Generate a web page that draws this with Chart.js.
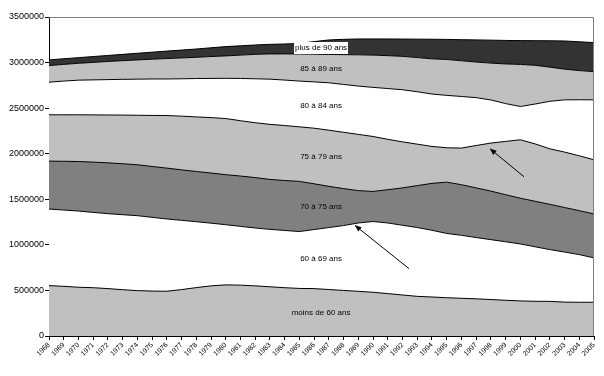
<!DOCTYPE html>
<html>
<head>
<meta charset="utf-8">
<script src="https://cdn.jsdelivr.net/npm/chart.js@4.4.1/dist/chart.umd.min.js"></script>
<style>
  html, body { margin: 0; padding: 0; background: #fff; }
  #wrap { width: 604px; height: 376px; }
</style>
</head>
<body>
<div id="wrap"><canvas id="ageChart" width="604" height="376"></canvas></div>
<script>
// Population âgée par tranche d'âge, en milliers
const years = ['1968', '1969', '1970', '1971', '1972', '1973', '1974', '1975', '1976', '1977',
  '1978', '1979', '1980', '1981', '1982', '1983', '1984', '1985', '1986', '1987',
  '1988', '1989', '1990', '1991', '1992', '1993', '1994', '1995', '1996', '1997',
  '1998', '1999', '2000', '2001', '2002', '2003', '2004', '2005'];

const groupNames = ['moins de 60 ans', '60 à 69 ans', '70 à 75 ans', '75 à 79 ans',
  '80 à 84 ans', '85 à 89 ans', 'plus de 90 ans'];

const moins60 = [553, 545, 535, 530, 520, 508, 498, 493, 491, 509, 531, 550, 561, 558, 550, 540, 530, 522, 520, 510,
  500, 490, 480, 465, 450, 435, 428, 420, 414, 408, 400, 392, 385, 381, 380, 372, 370, 370];
const age60a69 = [840, 837, 836, 826, 822, 823, 822, 809, 793, 760, 723, 688, 660, 645, 635, 630, 628, 624, 648, 680,
  712, 750, 776, 775, 765, 755, 732, 705, 691, 672, 657, 642, 625, 598, 568, 549, 523, 487];
const age70a74 = [526, 535, 543, 552, 558, 559, 559, 558, 558, 554, 551, 550, 549, 552, 553, 548, 548, 550, 502, 452,
  405, 355, 330, 365, 410, 460, 515, 563, 555, 545, 533, 516, 502, 499, 497, 489, 482, 482];
const age75a79 = [508, 510, 513, 518, 525, 534, 543, 560, 577, 589, 599, 608, 616, 607, 602, 604, 603, 599, 610, 616,
  618, 617, 603, 553, 505, 455, 405, 377, 402, 465, 527, 585, 641, 630, 609, 608, 602, 594];
const age80a84 = [358, 370, 380, 384, 388, 392, 396, 400, 401, 410, 421, 430, 441, 464, 482, 496, 499, 502, 508, 520,
  525, 530, 539, 557, 572, 575, 575, 575, 566, 525, 473, 415, 365, 437, 521, 573, 615, 658];
const age85a89 = [182, 183, 185, 192, 199, 205, 211, 217, 224, 229, 233, 240, 246, 256, 268, 277, 287, 297, 304, 311,
  327, 343, 354, 361, 366, 375, 386, 394, 392, 391, 404, 435, 462, 425, 375, 337, 320, 310];
const plus90 = [62, 62, 62, 64, 66, 69, 73, 77, 82, 86, 91, 96, 102, 102, 103, 105, 109, 116, 138, 159,
  168, 174, 177, 183, 190, 202, 215, 220, 231, 243, 252, 258, 261, 270, 289, 309, 316, 318];

const yTicks = [0, 500000, 1000000, 1500000, 2000000, 2500000, 3000000, 3500000];

// flèches du graphique : [index année, valeur] de la queue vers la pointe
const arrows = [
  { from: [24.44, 739000], to: [20.77, 1214000] },
  { from: [32.25, 1747000], to: [29.94, 2054000] }
];
const labelIndex = 18.47;

const series = [moins60, age60a69, age70a74, age75a79, age80a84, age85a89, plus90];
const fills = ['#c0c0c0', '#ffffff', '#808080', '#c0c0c0', '#ffffff', '#c0c0c0', '#333333'];
const FONT = '"Liberation Sans", Arial, sans-serif';

const whiteBg = {
  id: 'whiteBg',
  beforeDraw(chart) {
    const ctx = chart.ctx;
    ctx.save();
    ctx.fillStyle = '#fff';
    ctx.fillRect(0, 0, chart.width, chart.height);
    ctx.restore();
  }
};

const decorations = {
  id: 'decorations',
  afterDatasetsDraw(chart) {
    const { ctx, chartArea: a, scales: { x, y } } = chart;
    ctx.save();

    // bord haut et droit gris
    ctx.strokeStyle = '#808080';
    ctx.lineWidth = 1;
    ctx.beginPath();
    ctx.moveTo(a.left, a.top + 0.5);
    ctx.lineTo(a.right - 0.5, a.top + 0.5);
    ctx.lineTo(a.right - 0.5, a.bottom);
    ctx.stroke();

    // étiquettes des tranches
    ctx.font = '8px ' + FONT;
    ctx.textAlign = 'center';
    ctx.textBaseline = 'middle';
    const i0 = Math.floor(labelIndex), t = labelIndex - i0;
    const px = x.getPixelForValue(labelIndex);
    let base = 0;
    chart.data.datasets.forEach((ds, k) => {
      const v = ds.data[i0] * (1 - t) + ds.data[i0 + 1] * t;
      const py = y.getPixelForValue(base + v / 2);
      base += v;
      if (k === chart.data.datasets.length - 1) {
        const w = ctx.measureText(ds.label).width + 2;
        ctx.fillStyle = '#fff';
        ctx.fillRect(Math.round(px - w / 2), Math.round(py - 6), Math.round(w), 12);
      }
      ctx.fillStyle = '#000';
      ctx.fillText(ds.label, px, py);
    });

    // flèches
    ctx.strokeStyle = '#000';
    ctx.fillStyle = '#000';
    arrows.forEach(ar => {
      const x1 = x.getPixelForValue(ar.from[0]), y1 = y.getPixelForValue(ar.from[1]);
      const x2 = x.getPixelForValue(ar.to[0]), y2 = y.getPixelForValue(ar.to[1]);
      const ang = Math.atan2(y2 - y1, x2 - x1);
      ctx.beginPath();
      ctx.moveTo(x1, y1);
      ctx.lineTo(x2, y2);
      ctx.stroke();
      ctx.beginPath();
      ctx.moveTo(x2, y2);
      ctx.lineTo(x2 - 7 * Math.cos(ang - 0.4), y2 - 7 * Math.sin(ang - 0.4));
      ctx.lineTo(x2 - 7 * Math.cos(ang + 0.4), y2 - 7 * Math.sin(ang + 0.4));
      ctx.closePath();
      ctx.fill();
    });
    ctx.restore();
  }
};

const ctx = document.getElementById('ageChart').getContext('2d');
const ageChart = new Chart(ctx, {
  type: 'line',
  data: {
    labels: years,
    datasets: series.map((vals, k) => ({
      label: groupNames[k],
      data: vals.map(v => v * 1000),
      backgroundColor: fills[k],
      borderColor: '#000',
      borderWidth: 1,
      pointRadius: 0,
      tension: 0,
      fill: k === 0 ? 'origin' : '-1'
    }))
  },
  options: {
    responsive: false,
    animation: false,
    devicePixelRatio: 1,
    layout: { padding: { top: 17, right: 10, left: 0, bottom: 0 } },
    plugins: {
      legend: { display: false },
      tooltip: { enabled: false }
    },
    scales: {
      x: {
        offset: false,
        grid: { drawOnChartArea: false, drawTicks: true, tickLength: 4, color: '#000' },
        border: { display: true, color: '#000', width: 1 },
        ticks: {
          autoSkip: false,
          minRotation: 45,
          maxRotation: 45,
          padding: 1,
          color: '#000',
          font: { family: FONT, size: 7 }
        },
        afterFit(scale) { scale.height = 40; }
      },
      y: {
        stacked: true,
        min: 0,
        max: 3500000,
        afterBuildTicks(scale) { scale.ticks = yTicks.map(v => ({ value: v })); },
        grid: { drawOnChartArea: false, drawTicks: true, tickLength: 4, color: '#000' },
        border: { display: true, color: '#000', width: 1 },
        ticks: {
          padding: 1,
          color: '#000',
          font: { family: FONT, size: 9 },
          callback: v => String(v)
        },
        afterFit(scale) { scale.width = 49; }
      }
    }
  },
  plugins: [whiteBg, decorations]
});
</script>
</body>
</html>
